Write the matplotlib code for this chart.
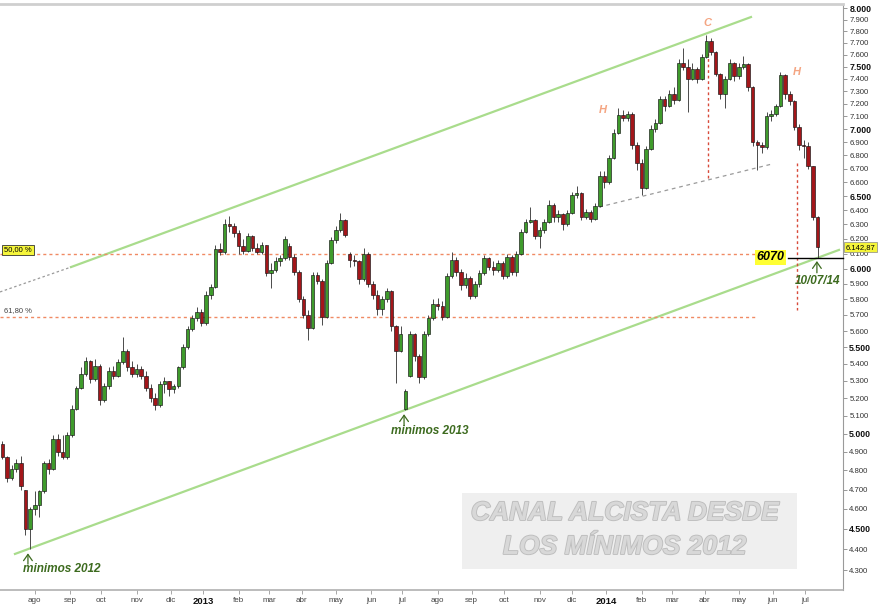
import numpy as np
import pandas as pd
import matplotlib
matplotlib.use("Agg")
import matplotlib.pyplot as plt
from matplotlib.ticker import FixedLocator, NullLocator
from matplotlib.patches import Rectangle
from matplotlib.transforms import blended_transform_factory
import matplotlib.patheffects as pe

plt.rcParams['font.family'] = ['Liberation Sans', 'DejaVu Sans']

# ---------------- data (3-session candles, Jul 2012 - Jul 2014) ----------------
opens = [4940, 4870, 4760, 4810, 4840, 4700, 4500, 4600, 4620, 4690, 4840, 4810, 4970, 4900, 4870,
         4990, 5140, 5260, 5340, 5420, 5310, 5390, 5190, 5270, 5360, 5330, 5410, 5480, 5380, 5340,
         5370, 5330, 5260, 5200, 5160, 5280, 5300, 5250, 5270, 5380, 5500, 5610, 5680, 5720, 5650,
         5830, 5880, 6130, 6110, 6300, 6290, 6240, 6150, 6120, 6220, 6140, 6110, 6160, 5970, 5990,
         6050, 6070, 6150, 6080, 5980, 5800, 5700, 5620, 5960, 5920, 5690, 6040, 6190, 6260, 6330,
         6100, 6060, 6050, 5930, 6100, 5900, 5830, 5740, 5800, 5850, 5630, 5480, 5140, 5330, 5580,
         5450, 5320, 5580, 5680, 5770, 5760, 5690, 5950, 6060, 5980, 5890, 5940, 5820, 5900, 5970,
         6070, 6010, 5990, 6040, 5950, 6080, 5980, 6100, 6250, 6320, 6330, 6220, 6260, 6320, 6440,
         6350, 6370, 6300, 6380, 6510, 6520, 6350, 6390, 6340, 6430, 6650, 6600, 6780, 6970, 7110,
         7090, 7120, 6880, 6740, 6560, 6850, 7000, 7050, 7240, 7180, 7280, 7230, 7530, 7500, 7400,
         7480, 7400, 7580, 7720, 7620, 7440, 7280, 7400, 7530, 7420, 7500, 7520, 7330, 6900, 6880,
         6860, 7100, 7120, 7180, 7430, 7280, 7220, 7020, 6880, 6870, 6720, 6350]
highs = [4960, 4880, 4830, 4860, 4880, 4700, 4610, 4690, 4700, 4850, 4860, 4990, 5000, 4990, 5010,
         5160, 5270, 5380, 5440, 5425, 5430, 5400, 5290, 5380, 5390, 5430, 5560, 5490, 5420, 5400,
         5390, 5360, 5280, 5230, 5300, 5320, 5300, 5280, 5390, 5520, 5630, 5700, 5750, 5740, 5850,
         5900, 6160, 6170, 6340, 6360, 6310, 6260, 6200, 6240, 6230, 6170, 6180, 6160, 6040, 6080,
         6090, 6220, 6170, 6100, 5990, 5820, 5730, 5980, 5980, 5930, 6060, 6210, 6290, 6380, 6340,
         6110, 6090, 6060, 6140, 6110, 5920, 5860, 5820, 5870, 5860, 5640, 5630, 5250, 5600, 5590,
         5460, 5600, 5700, 5800, 5810, 5790, 5970, 6110, 6080, 6000, 5970, 5950, 5920, 5990, 6090,
         6080, 6050, 6060, 6050, 6100, 6090, 6120, 6270, 6340, 6420, 6340, 6280, 6340, 6470, 6450,
         6400, 6380, 6400, 6530, 6570, 6530, 6410, 6400, 6450, 6680, 6680, 6800, 7000, 7165, 7150,
         7140, 7130, 6900, 6770, 6870, 7030, 7080, 7260, 7260, 7310, 7330, 7560, 7655, 7560, 7530,
         7500, 7610, 7765, 7740, 7630, 7450, 7420, 7560, 7540, 7530, 7590, 7530, 7340, 6920, 6900,
         7130, 7150, 7200, 7455, 7440, 7300, 7230, 7040, 6920, 6900, 6720, 6360]
lows = [4860, 4740, 4750, 4790, 4700, 4470, 4400, 4570, 4560, 4680, 4780, 4800, 4880, 4860, 4860,
        4980, 5130, 5250, 5330, 5290, 5300, 5160, 5180, 5250, 5310, 5320, 5400, 5360, 5320, 5320,
        5310, 5240, 5180, 5130, 5150, 5230, 5210, 5230, 5260, 5370, 5490, 5600, 5660, 5630, 5640,
        5800, 5870, 6090, 6100, 6250, 6210, 6100, 6100, 6110, 6120, 6100, 6100, 5950, 5870, 5980,
        6020, 6060, 6060, 5960, 5780, 5680, 5545, 5610, 5900, 5640, 5680, 6030, 6170, 6250, 6210,
        6010, 6020, 5900, 5920, 5880, 5800, 5700, 5700, 5780, 5600, 5290, 5470, 5130, 5320, 5420,
        5290, 5310, 5570, 5670, 5730, 5670, 5680, 5940, 5950, 5860, 5870, 5800, 5810, 5880, 5960,
        5990, 5960, 5980, 5930, 5940, 5960, 5950, 6090, 6240, 6310, 6200, 6140, 6240, 6310, 6320,
        6320, 6260, 6290, 6370, 6490, 6330, 6340, 6320, 6330, 6420, 6560, 6590, 6770, 6960, 7060,
        7060, 6850, 6690, 6510, 6550, 6840, 6980, 7040, 7140, 7170, 7200, 7220, 7470, 7130, 7390,
        7370, 7390, 7570, 7600, 7420, 7240, 7165, 7390, 7380, 7400, 7480, 7300, 6870, 6690, 6820,
        6850, 7060, 7100, 7170, 7240, 7190, 6990, 6840, 6780, 6700, 6330, 6070]
closes = [4870, 4760, 4810, 4840, 4720, 4500, 4600, 4620, 4690, 4840, 4810, 4970, 4900, 4870, 4990,
          5140, 5260, 5340, 5420, 5310, 5390, 5190, 5270, 5360, 5330, 5410, 5480, 5380, 5340, 5370,
          5330, 5260, 5200, 5160, 5280, 5300, 5250, 5270, 5380, 5500, 5610, 5680, 5720, 5650, 5830,
          5880, 6130, 6110, 6300, 6290, 6240, 6150, 6120, 6220, 6140, 6110, 6160, 5970, 5990, 6050,
          6070, 6200, 6080, 5980, 5800, 5700, 5620, 5960, 5920, 5690, 6040, 6190, 6260, 6330, 6230,
          6060, 6050, 5930, 6100, 5900, 5830, 5740, 5800, 5850, 5630, 5480, 5580, 5240, 5580, 5450,
          5320, 5580, 5680, 5770, 5760, 5690, 5950, 6060, 5980, 5890, 5940, 5820, 5900, 5970, 6070,
          6010, 5990, 6040, 5950, 6080, 5980, 6100, 6250, 6320, 6330, 6220, 6260, 6320, 6440, 6350,
          6370, 6300, 6380, 6510, 6520, 6350, 6390, 6340, 6430, 6650, 6600, 6780, 6970, 7110, 7090,
          7120, 6880, 6740, 6560, 6850, 7000, 7050, 7240, 7180, 7280, 7230, 7530, 7500, 7400, 7480,
          7400, 7580, 7720, 7620, 7440, 7280, 7400, 7530, 7420, 7500, 7520, 7330, 6900, 6880, 6860,
          7100, 7120, 7180, 7430, 7280, 7220, 7020, 6880, 6870, 6720, 6350, 6143]

month_labels = ['ago', 'sep', 'oct', 'nov', 'dic', '2013', 'feb', 'mar', 'abr', 'may', 'jun', 'jul',
                'ago', 'sep', 'oct', 'nov', 'dic', '2014', 'feb', 'mar', 'abr', 'may', 'jun', 'jul']
y_ticks = list(range(4300, 8001, 100))

# annotation geometry (trading-day index, price)
channel_upper = ([45.5, 485.9], [6010, 7923])
channel_upper_ext = ([-0.5, 45.5], [5847, 6010])
channel_lower = ([9.2, 542.9], [4377, 6125])
fib_50 = 6095
fib_618 = 5690
fib_end = 489.8
neckline = ([387.5, 499.5], [6422, 6735])
drop_c = ([457.9, 457.9], [7614, 6617])
drop_h = ([515.5, 515.5], [6742, 5731])
support_level = 6070
last_price = "6.142,87"
last_value = 6142.87

# ---------------- figure ----------------
fig = plt.figure(figsize=(8.8, 6.07), dpi=100)
ax = fig.add_axes([0, 17 / 607, 843 / 880, 586 / 607])
ax.set_yscale('log')
ax.set_xlim(-0.5, 545.5)
ax.set_ylim(4206, 8038)

dates = pd.bdate_range('2012-07-02', '2014-07-11')
x = np.arange(len(closes)) * 3 + 1
o = np.array(opens, float)
h = np.array(highs, float)
l = np.array(lows, float)
c = np.array(closes, float)
up = c >= o
col = np.where(up, '#3f9b2c', '#a3161a')

ax.vlines(x, l, h, color='#4a4a4a', lw=0.7, zorder=3)
ax.bar(x, np.abs(c - o), bottom=np.minimum(o, c), width=2.3, color=col,
       edgecolor='#151515', linewidth=0.45, zorder=4)

# watermark box
ax.add_patch(Rectangle((0.548, 0.0358), 0.397, 0.1297, transform=ax.transAxes,
                       fc='#efefef', ec='none', zorder=1))
for txt, yy in [('CANAL ALCISTA DESDE', 0.1314), ('LOS MÍNIMOS 2012', 0.0734)]:
    ax.text(0.741, yy, txt, transform=ax.transAxes, ha='center', va='center',
            fontsize=19, fontweight='bold', style='italic', color='#d8d8d8', zorder=2,
            path_effects=[pe.withStroke(linewidth=1.3, foreground='#bdbdbd')])

# channel lines
green_line = '#a9dc8c'
ax.plot(*channel_upper, color=green_line, lw=1.6, zorder=2)
ax.plot(*channel_lower, color=green_line, lw=1.6, zorder=2)
ax.plot(*channel_upper_ext, color='#9a9a9a', lw=0.9, ls=(0, (2, 2)), zorder=2)

# fibonacci levels
fib_col = '#f08a64'
ax.plot([-0.5, fib_end], [fib_50, fib_50], color=fib_col, lw=1.0, ls=(0, (2.2, 2.2)), zorder=2)
ax.plot([-0.5, fib_end], [fib_618, fib_618], color=fib_col, lw=1.0, ls=(0, (2.2, 2.2)), zorder=2)
bt = blended_transform_factory(ax.transAxes, ax.transData)
ax.text(0.005, 6125, '50,00 %', transform=bt, ha='left', va='center', fontsize=5.5, zorder=6,
        bbox=dict(boxstyle='square,pad=0.25', fc='#f5f53a', ec='#333333', lw=0.6))
ax.text(0.005, 5730, '61,80 %', transform=bt, ha='left', va='center', fontsize=5.5,
        color='#444444', zorder=6)

# neckline and target drops
ax.plot(*neckline, color='#9a9a9a', lw=0.9, ls=(0, (3, 3)), zorder=2)
ax.plot(*drop_c, color='#d84a3a', lw=1.0, ls=(0, (2, 2)), zorder=2)
ax.plot(*drop_h, color='#d84a3a', lw=1.0, ls=(0, (2, 2)), zorder=2)

# pattern letters
pat_col = '#f4a582'
for t, xx, yy in [('C', 457.4, 7871), ('H', 390.0, 7150), ('H', 515.7, 7456)]:
    ax.text(xx, yy, t, ha='center', va='center', fontsize=8, fontweight='bold',
            style='italic', color=pat_col, zorder=6)

# support 6070
ax.plot([509.9, 545.5], [support_level, support_level], color='black', lw=1.0, zorder=5,
        clip_on=False)
ax.text(498.8, 6077, '6070', ha='center', va='center', fontsize=9, fontweight='bold',
        style='italic', color='black', zorder=6,
        bbox=dict(boxstyle='square,pad=0.12', fc='#ffff33', ec='none'))

# last price label on axis
ax.text(1.003, last_value, last_price, transform=bt, ha='left', va='center', fontsize=5.5,
        zorder=7, clip_on=False,
        bbox=dict(boxstyle='square,pad=0.2', fc='#f5f53a', ec='#888888', lw=0.5))

# minima annotations
ann_col = '#3d6b1f'
arrows = [(17.6, 4380, 4328), (261.2, 5108, 5045), (528.6, 6050, 5972)]
for xx, ytip, ytail in arrows:
    ax.annotate('', xy=(xx, ytip), xytext=(xx, ytail),
                arrowprops=dict(arrowstyle='->,head_length=0.5,head_width=0.35',
                                color=ann_col, lw=0.9, mutation_scale=9,
                                shrinkA=0, shrinkB=0), zorder=6)
for t, xx, yy in [('minimos 2012', 39.7, 4305), ('minimos 2013', 278.0, 5014),
                  ('10/07/14', 529.3, 5919)]:
    ax.text(xx, yy, t, ha='center', va='center', fontsize=8.5, fontweight='bold',
            style='italic', color=ann_col, zorder=6, clip_on=False)

# axes styling
ax.spines['left'].set_visible(False)
ax.spines['top'].set_color('#cfcfcf')
ax.spines['top'].set_linewidth(2)
ax.spines['right'].set_color('#9a9a9a')
ax.spines['bottom'].set_color('#b0b0b0')
ax.spines['bottom'].set_linewidth(1.2)

ax.yaxis.tick_right()
ax.yaxis.set_major_locator(FixedLocator(y_ticks))
ax.yaxis.set_minor_locator(NullLocator())
ax.set_yticklabels([f"{v // 1000}.{v % 1000:03d}" for v in y_ticks])
ax.tick_params(axis='y', which='major', direction='out', length=3, width=0.6,
               color='#888888', pad=1.5, labelsize=5.6, labelcolor='#333333')
for lab, v in zip(ax.get_yticklabels(), y_ticks):
    if v % 500 == 0:
        lab.set_fontweight('bold')
        lab.set_fontsize(6.3)
        lab.set_color('#111111')

period = dates.to_period('M')
starts = np.flatnonzero(np.r_[True, period[1:] != period[:-1]])[1:]
ax.set_xticks(starts)
ax.set_xticklabels(month_labels)
ax.xaxis.set_minor_locator(NullLocator())
ax.tick_params(axis='x', direction='out', length=3, width=0.6, color='#999999',
               pad=2, labelsize=5.8, labelcolor='#444444')
for lab in ax.get_xticklabels():
    if lab.get_text().isdigit():
        lab.set_fontweight('bold')
        lab.set_fontsize(6.8)
        lab.set_color('#111111')

fig.savefig('out.png', dpi=100)
